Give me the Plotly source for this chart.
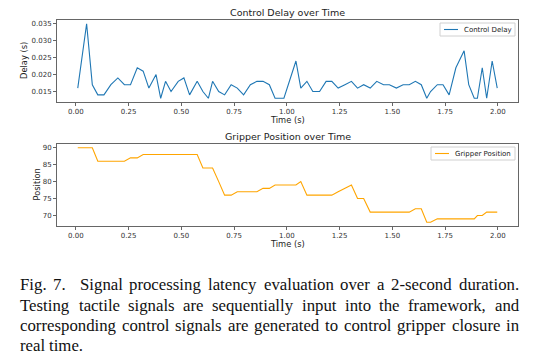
import plotly.graph_objects as go

# ---- data ----
time_s = [0.009, 0.051, 0.078, 0.104, 0.133, 0.166, 0.199, 0.230, 0.259, 0.291,
          0.319, 0.346, 0.380, 0.402, 0.425, 0.451, 0.485, 0.512, 0.539, 0.575,
          0.602, 0.628, 0.648, 0.677, 0.705, 0.736, 0.765, 0.795, 0.827, 0.858,
          0.887, 0.917, 0.944, 0.986, 1.043, 1.066, 1.095, 1.123, 1.155, 1.186,
          1.213, 1.243, 1.275, 1.306, 1.335, 1.364, 1.395, 1.426, 1.458, 1.486,
          1.519, 1.551, 1.580, 1.609, 1.637, 1.663, 1.681, 1.713, 1.740, 1.769,
          1.801, 1.840, 1.862, 1.888, 1.903, 1.926, 1.947, 1.973, 1.997]

control_delay = [0.016, 0.035, 0.017, 0.014, 0.014, 0.017, 0.019, 0.017, 0.017, 0.022,
                 0.021, 0.016, 0.020, 0.013, 0.018, 0.015, 0.018, 0.019, 0.014, 0.018,
                 0.015, 0.013, 0.018, 0.015, 0.014, 0.017, 0.016, 0.014, 0.017, 0.018,
                 0.018, 0.017, 0.013, 0.013, 0.024, 0.016, 0.018, 0.015, 0.015, 0.018,
                 0.018, 0.016, 0.017, 0.018, 0.016, 0.017, 0.016, 0.018, 0.017, 0.017,
                 0.016, 0.017, 0.017, 0.018, 0.017, 0.013, 0.015, 0.017, 0.017, 0.014,
                 0.022, 0.027, 0.017, 0.013, 0.013, 0.022, 0.013, 0.024, 0.016]

gripper_position = [90, 90, 90, 86, 86, 86, 86, 86, 87, 87,
                    88, 88, 88, 88, 88, 88, 88, 88, 88, 88,
                    84, 84, 84, 80, 76, 76, 77, 77, 77, 77,
                    78, 78, 79, 79, 79, 80, 76, 76, 76, 76,
                    76, 77, 78, 79, 75, 75, 71, 71, 71, 71,
                    71, 71, 71, 72, 72, 68, 68, 69, 69, 69,
                    69, 69, 69, 69, 70, 70, 71, 71, 71]

x_ticks = [0.00, 0.25, 0.50, 0.75, 1.00, 1.25, 1.50, 1.75, 2.00]
delay_ticks = [0.015, 0.020, 0.025, 0.030, 0.035]
position_ticks = [70, 75, 80, 85, 90]

series_names = ["Control Delay", "Gripper Position"]
series_colors = ["#1f77b4", "#ffa500"]

caption_lines = [
    "Fig. 7.  Signal processing latency evaluation over a 2-second duration.",
    "Testing tactile signals are sequentially input into the framework, and",
    "corresponding control signals are generated to control gripper closure in",
    "real time.",
]

W, H = 538, 355
TICK_FONT = dict(family="DejaVu Sans", size=7, color="#333333")
SPINE = "#666666"

fig = go.Figure()
fig.add_trace(go.Scatter(x=time_s, y=control_delay, mode="lines", name=series_names[0],
                         line=dict(color=series_colors[0], width=1.1), xaxis="x", yaxis="y"))
fig.add_trace(go.Scatter(x=time_s, y=gripper_position, mode="lines", name=series_names[1],
                         line=dict(color=series_colors[1], width=1.1), xaxis="x2", yaxis="y2"))

xdom = [57 / W, 518 / W]
top_dom = [1 - 102 / H, 1 - 20 / H]
bot_dom = [1 - 226 / H, 1 - 144 / H]

def xaxis_cfg(anchor):
    return dict(domain=xdom, anchor=anchor, range=[-0.0894, 2.0954],
                tickvals=x_ticks, ticktext=[f"{v:.2f}" for v in x_ticks],
                ticks="outside", ticklen=2.5, tickcolor=SPINE, tickfont=TICK_FONT,
                showgrid=False, zeroline=False, showline=True, linecolor=SPINE,
                linewidth=1, mirror=True)

def yaxis_cfg(anchor, dom, rng, tv, fmt):
    return dict(domain=dom, anchor=anchor, range=rng, tickvals=tv,
                ticktext=[fmt.format(v) for v in tv],
                ticks="outside", ticklen=3, tickcolor=SPINE, tickfont=TICK_FONT,
                showgrid=False, zeroline=False, showline=True, linecolor=SPINE,
                linewidth=1, mirror=True)

annotations = []
shapes = []
def ann(text, x, y, size, **kw):
    d = dict(text=text, x=x / W, y=1 - y / H, xref="paper", yref="paper",
             showarrow=False, font=dict(family="DejaVu Sans", size=size, color="#222222"),
             xanchor="center", yanchor="middle", borderpad=0)
    d.update(kw)
    annotations.append(d)

cx = (57 + 518) / 2
ann("Control Delay over Time", cx, 12.5, 9.5)
ann("Gripper Position over Time", cx, 136.5, 9.5)
ann("Time (s)", cx, 119.5, 8.3)
ann("Time (s)", cx, 243.5, 8.3)
ann("Delay (s)", 24, 61, 8.3, textangle=-90)
ann("Position", 36, 184.5, 8.3, textangle=-90)

# ---- matplotlib-style compact legends (box, sample line, label) ----
def legend_box(name, color, x0, x1, y0, y1):
    shapes.append(dict(type="rect", xref="paper", yref="paper",
                       x0=x0 / W, x1=x1 / W, y0=1 - y1 / H, y1=1 - y0 / H,
                       fillcolor="rgba(255,255,255,0.85)",
                       line=dict(color="#d0d0d0", width=1), layer="above"))
    ym = (y0 + y1) / 2
    shapes.append(dict(type="line", xref="paper", yref="paper",
                       x0=(x0 + 4) / W, x1=(x0 + 18) / W, y0=1 - ym / H, y1=1 - ym / H,
                       line=dict(color=color, width=1.1), layer="above"))
    ann(name, x0 + 23, ym, 7, xanchor="left")

legend_box(series_names[0], series_colors[0], 440, 515, 23, 36)
legend_box(series_names[1], series_colors[1], 431, 515, 147, 160)

# ---- justified caption (Times metrics) ----
tw = {' ': 250, 'a': 444, 'b': 500, 'c': 444, 'd': 500, 'e': 444, 'f': 333, 'g': 500,
      'h': 500, 'i': 278, 'j': 278, 'k': 500, 'l': 278, 'm': 778, 'n': 500, 'o': 500,
      'p': 500, 'q': 500, 'r': 333, 's': 389, 't': 278, 'u': 500, 'v': 500, 'w': 722,
      'x': 500, 'y': 500, 'z': 444, 'F': 556, 'S': 556, 'T': 611, '.': 250, ',': 250,
      '-': 333}
def text_w(s, size):
    return sum(tw.get(c, 500) for c in s) * size / 1000.0

CAP_SIZE = 16.8
left, right = 19, 518
line_y = [284.5, 305, 325.5, 345.5]
for i, line in enumerate(caption_lines):
    words = line.split(" ")
    tokens = []
    weights = []
    for w in words:
        if w == "":
            weights[-1] += 1
        else:
            tokens.append(w)
            weights.append(1)
    weights = weights[:-1]
    if i < len(caption_lines) - 1:
        total = sum(text_w(w, CAP_SIZE) for w in tokens)
        gap = (right - left - total) / sum(weights)
    else:
        gap = text_w(" ", CAP_SIZE)
    x = left
    for j, w in enumerate(tokens):
        annotations.append(dict(text=w, x=x / W, y=1 - line_y[i] / H, xref="paper",
                                yref="paper", showarrow=False, xanchor="left",
                                yanchor="middle", borderpad=0,
                                font=dict(family="Liberation Serif", size=CAP_SIZE,
                                          color="#111111")))
        x += text_w(w, CAP_SIZE)
        if j < len(weights):
            x += gap * weights[j]

fig.update_layout(
    width=W, height=H, margin=dict(l=0, r=0, t=0, b=0),
    paper_bgcolor="white", plot_bgcolor="white",
    xaxis=xaxis_cfg("y"),
    yaxis=yaxis_cfg("x", top_dom, [0.0119, 0.0361], delay_ticks, "{:.3f}"),
    xaxis2=xaxis_cfg("y2"),
    yaxis2=yaxis_cfg("x2", bot_dom, [66.9, 91.1], position_ticks, "{:d}"),
    annotations=annotations,
    shapes=shapes,
    showlegend=False,
)

fig.write_html(
    "out.html",
    config={"displayModeBar": False},
    post_script="document.body.style.margin='0';document.body.style.padding='0';"
                "document.body.style.overflow='hidden';",
)
